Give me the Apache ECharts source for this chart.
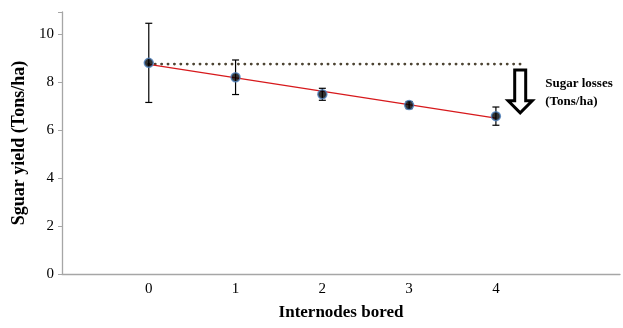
<!DOCTYPE html>
<html><head><meta charset="utf-8">
<script src="https://cdn.jsdelivr.net/npm/echarts@6/dist/echarts.min.js"></script>
<style>html,body{margin:0;padding:0;background:#fff}#c{width:623px;height:328px}</style>
</head><body><div id="c"></div>
<script>
const internodes = [0, 1, 2, 3, 4];
const sugarYield = [8.8, 8.2, 7.49, 7.04, 6.58];
const errorAmt = [1.65, 0.72, 0.25, 0.15, 0.38];
const trendX = [0, 4];
const trendY = [8.74, 6.50];
const baselineX = [0, 4.35];
const baselineY = [8.75, 8.75];
const arrow = [4.28, 8.5, 6.72]; // x, top, tip
const annotation = ['Sugar losses', '(Tons/ha)'];
const yTicks = [0, 2, 4, 6, 8, 10];

const font = '"Liberation Serif", "Times New Roman", serif';
const chart = echarts.init(document.getElementById('c'), null, {renderer: 'canvas'});

const points = internodes.map((x, i) => [x, sugarYield[i]]);
const errData = internodes.map((x, i) => [x, sugarYield[i] - errorAmt[i], sugarYield[i] + errorAmt[i]]);

chart.setOption({
  animation: false,
  grid: {left: 62, right: 0, top: 12, bottom: 54},
  xAxis: {
    type: 'value', min: -1, max: 5.43, interval: 1,
    axisLine: {onZero: false, lineStyle: {color: '#a6a6a6', width: 1.3}},
    axisTick: {show: false},
    splitLine: {show: false},
    axisLabel: {
      color: '#000', fontFamily: font, fontSize: 15, margin: 8,
      formatter: v => internodes.indexOf(v) >= 0 ? String(v) : ''
    },
    name: 'Internodes bored', nameLocation: 'middle', nameGap: 30,
    nameTextStyle: {color: '#000', fontFamily: font, fontSize: 17, fontWeight: 'bold'}
  },
  yAxis: {
    type: 'value', min: 0, max: 10.92, interval: 2,
    axisLine: {show: true, onZero: false, lineStyle: {color: '#a6a6a6', width: 1.3}},
    axisTick: {show: true, length: 4, lineStyle: {color: '#a6a6a6'}},
    splitLine: {show: false},
    axisLabel: {
      color: '#000', fontFamily: font, fontSize: 15, margin: 8,
      formatter: v => yTicks.indexOf(v) >= 0 ? String(v) : ''
    },
    name: 'Sguar yield (Tons/ha)', nameLocation: 'middle', nameGap: 34,
    nameTextStyle: {color: '#000', fontFamily: font, fontSize: 18, fontWeight: 'bold'}
  },
  series: [
    {
      type: 'line', data: baselineX.map((x, i) => [x, baselineY[i]]),
      symbol: 'none', z: 2,
      lineStyle: {color: '#4d4433', width: 2.8, type: [0.1, 6.3], cap: 'round'}
    },
    {
      type: 'line', data: trendX.map((x, i) => [x, trendY[i]]),
      symbol: 'none', z: 3,
      lineStyle: {color: '#d7191c', width: 1.3}
    },
    {
      type: 'custom', z: 4, data: errData,
      renderItem: (params, api) => {
        const x = api.value(0);
        const lo = api.coord([x, api.value(1)]);
        const hi = api.coord([x, api.value(2)]);
        const w = 3.5;
        const st = {stroke: '#000', lineWidth: 1.2};
        return {type: 'group', children: [
          {type: 'line', shape: {x1: lo[0], y1: lo[1], x2: hi[0], y2: hi[1]}, style: st},
          {type: 'line', shape: {x1: lo[0]-w, y1: lo[1], x2: lo[0]+w, y2: lo[1]}, style: st},
          {type: 'line', shape: {x1: hi[0]-w, y1: hi[1], x2: hi[0]+w, y2: hi[1]}, style: st}
        ]};
      }
    },
    {
      type: 'scatter', data: points, symbol: 'circle', symbolSize: 9, z: 5,
      itemStyle: {color: '#000', borderColor: '#4f81bd', borderWidth: 1.5}
    },
    {
      type: 'custom', z: 6, data: [arrow],
      renderItem: (params, api) => {
        const top = api.coord([api.value(0), api.value(1)]);
        const tip = api.coord([api.value(0), api.value(2)]);
        const cx = top[0];
        const sw = 5.5, hw = 12, headH = 12;
        const hb = tip[1] - headH;
        const pts = [[cx-sw, top[1]], [cx+sw, top[1]], [cx+sw, hb], [cx+hw, hb], [cx, tip[1]], [cx-hw, hb], [cx-sw, hb]];
        return {type: 'group', children: [
          {type: 'polygon', shape: {points: pts}, style: {fill: '#fff', stroke: '#000', lineWidth: 3, lineJoin: 'miter'}},
          {type: 'text', x: cx + 25, y: top[1] + 23, style: {text: annotation.join('\n'), fill: '#000', font: 'bold 13px ' + font, lineHeight: 18, verticalAlign: 'middle'}}
        ]};
      }
    }
  ]
});
</script>
</body></html>
